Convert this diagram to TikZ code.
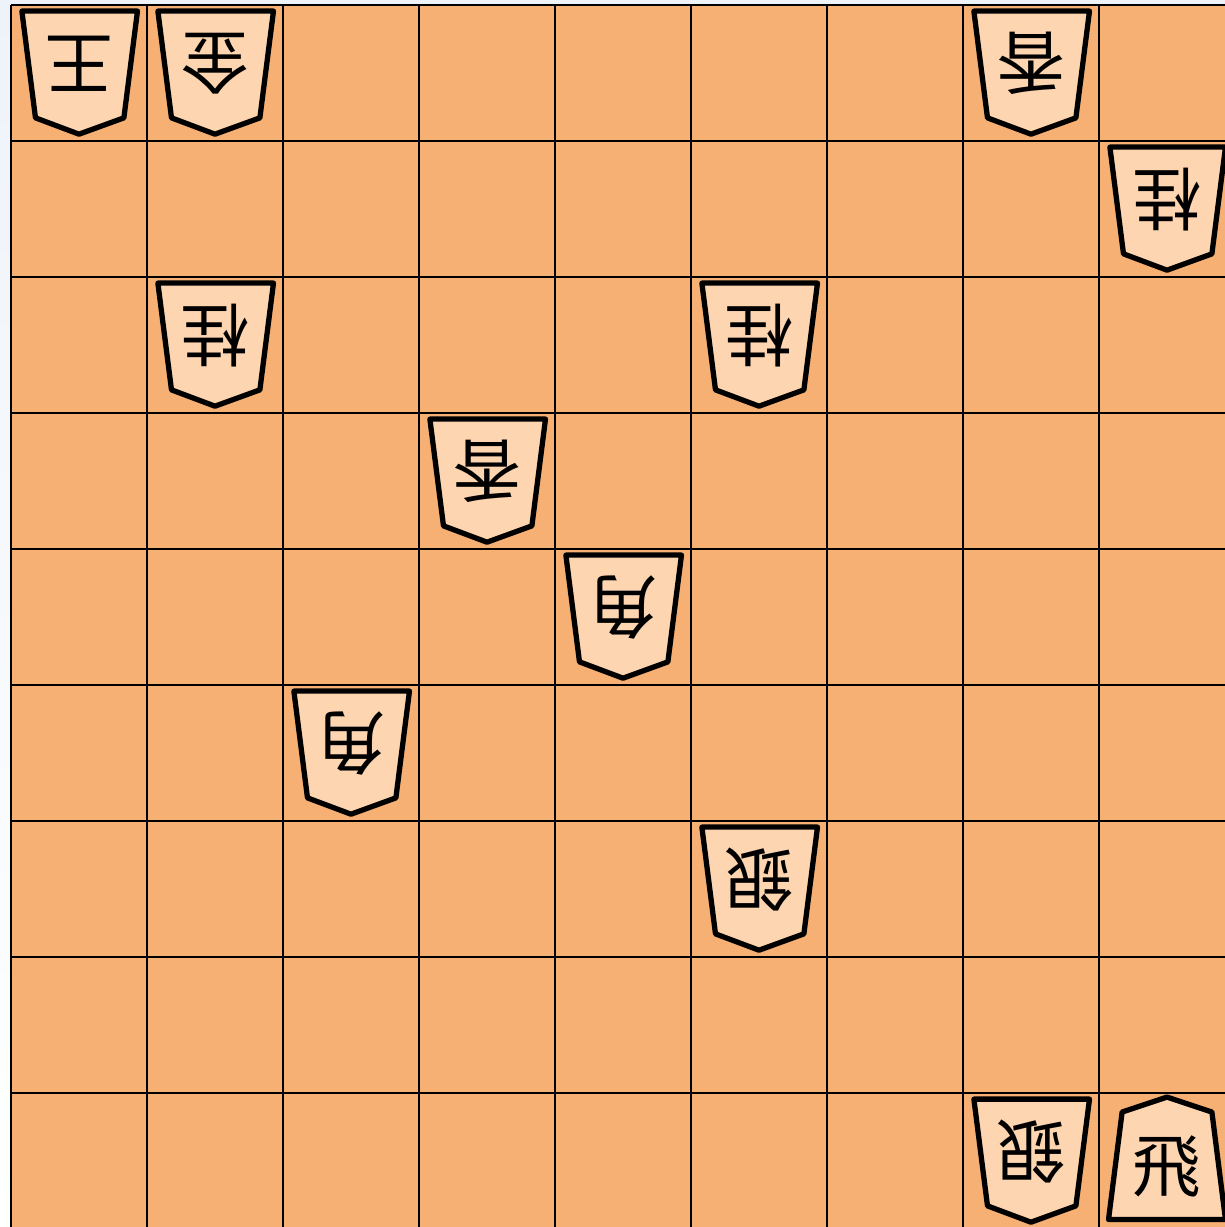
\documentclass[tikz,border=0pt]{standalone}
\usepackage{fontspec}
\usepackage{tikz}
\newfontfamily\cjk{Noto Sans CJK JP}
\definecolor{Board}{HTML}{F7B074}
\definecolor{Piece}{HTML}{FDD5B1}
\definecolor{Page}{HTML}{EEF3FA}

\begin{document}
\begin{tikzpicture}[
  grid/.style={draw=black,line width=0.8pt},
  koma/.style={draw=black,fill=Piece,line width=1.5pt,line join=round},
  moji/.style={font=\cjk\fontsize{19.5}{19.5}\selectfont,inner sep=0pt}
]
\useasboundingbox (0,0) rectangle (12.25,12.27);
\shade[top color=Page,bottom color=white] (0,0) rectangle (12.25,12.27);
\begin{scope}[shift={(0.11,12.22)},x=1.36cm,y=-1.36cm]
\fill[Board] (0,0) rectangle (9,9);
\foreach \i in {0,...,9} {
  \draw[grid] (\i,0) -- (\i,9);
  \draw[grid] (0,\i) -- (9,\i);
}
% gote pieces (upside down)
\foreach \c/\r/\k in {0/0/王,1/0/金,7/0/香,8/1/桂,1/2/桂,5/2/桂,3/3/香,4/4/角,2/5/角,5/6/銀,7/8/銀} {
  \draw[koma,shift={(\c,\r)}] (0.08,0.045) -- (0.93,0.045) -- (0.83,0.83) -- (0.5,0.95) -- (0.18,0.83) -- cycle;
  \node[moji,rotate=180] (g\c\r) at (\c+0.5,\r+0.43) {\k};
}
% sente piece
\draw[koma,shift={(8,8)}] (0.5,0.03) -- (0.83,0.14) -- (0.93,0.93) -- (0.07,0.93) -- (0.17,0.14) -- cycle;
\node[moji] (s88) at (8.5,8.54) {飛};
\end{scope}
\end{tikzpicture}
\end{document}
